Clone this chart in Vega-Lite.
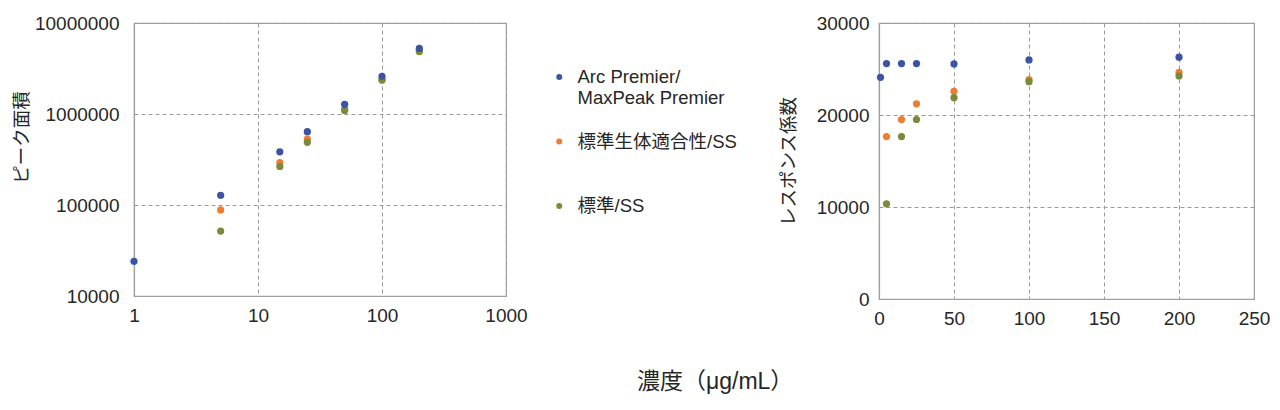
{
  "$schema": "https://vega.github.io/schema/vega-lite/v6.json",
  "padding": {"left": 11, "top": 13, "right": 5, "bottom": 5},
  "background": "white",
  "config": {
    "font": "Liberation Sans, Noto Sans CJK JP, sans-serif",
    "view": {"stroke": "#a0a0a0", "strokeWidth": 1.2},
    "axis": {
      "labelFont": "Liberation Sans, Noto Sans CJK JP, sans-serif",
      "titleFont": "Liberation Sans, Noto Sans CJK JP, sans-serif",
      "labelFontSize": 19,
      "titleFontSize": 18.5,
      "titleFontWeight": "normal",
      "labelColor": "#262626",
      "titleColor": "#262626",
      "ticks": false,
      "labelFlush": false,
      "domainColor": "#a0a0a0",
      "domainWidth": 1.2,
      "gridColor": "#9a9a9a",
      "gridDash": [4, 3],
      "gridWidth": 1,
      "labelPadding": 10
    }
  },
  "title": {
    "text": "濃度（μg/mL）",
    "orient": "bottom",
    "anchor": "middle",
    "fontSize": 23,
    "fontWeight": "normal",
    "font": "Liberation Sans, Noto Sans CJK JP, sans-serif",
    "color": "#262626",
    "offset": 42,
    "dx": 74
  },
  "data": {
    "values": [
      {"series": "標準生体適合性/SS", "conc": 5, "area": 88300, "rf": 17650},
      {"series": "標準生体適合性/SS", "conc": 15, "area": 292700, "rf": 19510},
      {"series": "標準生体適合性/SS", "conc": 25, "area": 530500, "rf": 21220},
      {"series": "標準生体適合性/SS", "conc": 50, "area": 1128500, "rf": 22570},
      {"series": "標準生体適合性/SS", "conc": 100, "area": 2384000, "rf": 23840},
      {"series": "標準生体適合性/SS", "conc": 200, "area": 4929000, "rf": 24645},
      {"series": "標準/SS", "conc": 5, "area": 51700, "rf": 10340},
      {"series": "標準/SS", "conc": 15, "area": 264800, "rf": 17655},
      {"series": "標準/SS", "conc": 25, "area": 487800, "rf": 19510},
      {"series": "標準/SS", "conc": 50, "area": 1094000, "rf": 21880},
      {"series": "標準/SS", "conc": 100, "area": 2362500, "rf": 23625},
      {"series": "標準/SS", "conc": 200, "area": 4849000, "rf": 24245},
      {"series": "Arc Premier/MaxPeak Premier", "conc": 1, "area": 24100, "rf": 24100},
      {"series": "Arc Premier/MaxPeak Premier", "conc": 5, "area": 128000, "rf": 25590},
      {"series": "Arc Premier/MaxPeak Premier", "conc": 15, "area": 383900, "rf": 25590},
      {"series": "Arc Premier/MaxPeak Premier", "conc": 25, "area": 639800, "rf": 25590},
      {"series": "Arc Premier/MaxPeak Premier", "conc": 50, "area": 1277500, "rf": 25550},
      {"series": "Arc Premier/MaxPeak Premier", "conc": 100, "area": 2599000, "rf": 25990},
      {"series": "Arc Premier/MaxPeak Premier", "conc": 200, "area": 5256000, "rf": 26280}
    ]
  },
  "resolve": {"legend": {"color": "independent"}},
  "spacing": 40,
  "hconcat": [
    {
      "width": 372,
      "height": 273,
      "mark": {"type": "point", "filled": true, "opacity": 1, "size": 52},
      "encoding": {
        "x": {
          "field": "conc", "type": "quantitative",
          "scale": {"type": "log", "domain": [1, 1000], "nice": false},
          "axis": {"title": null, "values": [1, 10, 100, 1000], "format": "d", "grid": true, "labelPadding": 10}
        },
        "y": {
          "field": "area", "type": "quantitative",
          "scale": {"type": "log", "domain": [10000, 10000000], "nice": false},
          "axis": {"title": "ピーク面積", "values": [10000, 100000, 1000000, 10000000], "format": "d", "grid": true, "labelPadding": 15, "titlePadding": 3, "titleY": 114}
        },
        "color": {
          "field": "series", "type": "nominal",
          "scale": {
            "domain": ["Arc Premier/MaxPeak Premier", "標準生体適合性/SS", "標準/SS"],
            "range": ["#3a53a4", "#ed7d31", "#7a8a3a"]
          },
          "legend": {
            "title": null,
            "orient": "none",
            "legendX": 416,
            "legendY": 32,
            "symbolType": "circle",
            "symbolSize": 36,
            "symbolStrokeWidth": 0,
            "labelFontSize": 18.5,
            "labelColor": "#262626",
            "labelFont": "Liberation Sans, Noto Sans CJK JP, sans-serif",
            "labelOffset": 9,
            "labelLimit": 300,
            "clipHeight": 44,
            "gridAlign": "all",
            "rowPadding": 12.5,
            "labelExpr": "datum.label == 'Arc Premier/MaxPeak Premier' ? ['Arc Premier/', 'MaxPeak Premier'] : datum.label",
            "labelBaseline": "middle",
            "encode": {
              "labels": {"update": {"lineHeight": {"value": 24}}}
            }
          }
        }
      }
    },
    {
      "width": 375,
      "height": 276,
      "mark": {"type": "point", "filled": true, "opacity": 1, "size": 52},
      "encoding": {
        "x": {
          "field": "conc", "type": "quantitative",
          "scale": {"domain": [0, 250], "nice": false},
          "axis": {"title": null, "values": [0, 50, 100, 150, 200, 250], "grid": true, "labelPadding": 10}
        },
        "y": {
          "field": "rf", "type": "quantitative",
          "scale": {"domain": [0, 30000], "nice": false},
          "axis": {"title": "レスポンス係数", "values": [0, 10000, 20000, 30000], "format": "d", "grid": true, "labelPadding": 10, "titlePadding": 18}
        },
        "color": {"field": "series", "type": "nominal", "legend": null}
      }
    }
  ]
}
